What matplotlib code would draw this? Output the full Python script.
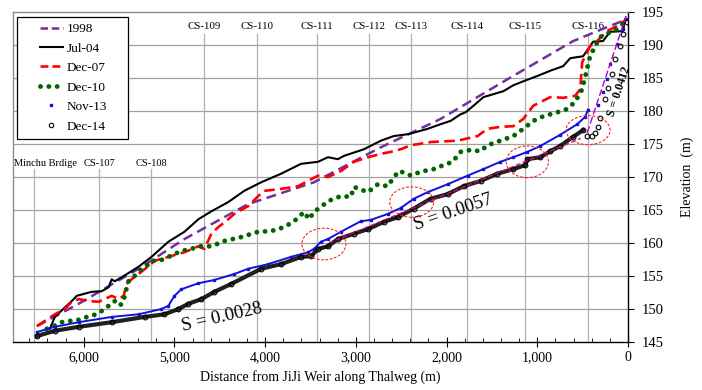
import matplotlib
matplotlib.use('Agg')
import matplotlib.pyplot as plt
from matplotlib.lines import Line2D
from matplotlib.patches import Ellipse
from matplotlib.legend_handler import HandlerLine2D
from matplotlib.ticker import FuncFormatter, MultipleLocator
import numpy as np

plt.rcParams['font.family'] = ['Liberation Serif', 'DejaVu Serif']

# ---------------- data ----------------
dist_1998 = [6517, 6055, 5396, 4890, 4187, 3462, 2725, 2066, 1330, 604, 198, 11]
elev_1998 = [147.4, 150.8, 156.1, 160.6, 165.9, 169.2, 174.5, 178.8, 184.8, 190.6, 192.9, 193.9]

dist_jul04 = [6374, 6319, 6110, 6077, 5912, 5802, 5726, 5692, 5659, 5583, 5396, 5253, 5066,
              4890, 4736, 4593, 4407, 4231, 4044, 3824, 3604, 3418, 3308, 3198, 3132, 2912,
              2725, 2583, 2418, 2209, 2066, 1956, 1846, 1791, 1703, 1594, 1374, 1264, 1154,
              1000, 857, 714, 637, 495, 385, 275, 198, 55, 33]
elev_jul04 = [147.0, 148.8, 151.5, 152.0, 152.6, 152.7, 153.3, 154.5, 154.2, 154.8, 156.4, 157.9, 160.2,
              161.7, 163.6, 164.8, 166.2, 167.9, 169.2, 170.5, 172.0, 172.3, 173.0, 172.7, 173.2, 174.2,
              175.5, 176.2, 176.5, 177.3, 178.0, 178.5, 179.5, 179.8, 180.8, 182.1, 183.0, 183.9, 184.5,
              185.3, 186.1, 186.8, 188.0, 188.3, 190.5, 190.6, 192.0, 192.1, 193.9]

dist_dec07 = [6517, 6429, 6319, 6209, 6132, 6055, 5945, 5835, 5770, 5692, 5615, 5560, 5527, 5473,
              5396, 5286, 5220, 5066, 4890, 4736, 4670, 4593, 4517, 4407, 4341, 4187, 4077, 4011,
              3824, 3638, 3528, 3418, 3308, 3165, 3022, 2868, 2725, 2616, 2506, 2396, 2176, 1879,
              1659, 1550, 1407, 1264, 1154, 1044, 857, 714, 582, 527, 505, 418, 341, 231, 121, 55, 11]
elev_dec07 = [147.4, 148.2, 149.2, 150.0, 151.1, 151.5, 151.2, 151.1, 151.5, 152.0, 151.5, 152.0, 153.8, 154.5,
              155.3, 156.5, 157.3, 157.9, 158.6, 159.5, 159.1, 161.4, 162.4, 163.6, 164.4, 165.6, 167.1, 167.9,
              168.2, 168.6, 169.4, 170.2, 170.0, 170.9, 172.3, 173.0, 173.5, 173.8, 174.2, 174.8, 175.3, 175.5,
              176.2, 177.3, 177.6, 177.7, 178.8, 180.8, 182.1, 182.0, 182.3, 183.3, 187.4, 189.8, 190.6, 192.1,
              192.9, 193.5, 193.9]

dist_dec10 = [6407, 6352, 6242, 6165, 6099, 6022, 5945, 5857, 5770, 5660, 5605, 5560, 5550, 5506,
              5440, 5385, 5308, 5253, 5165, 5066, 4923, 4813, 4736, 4593, 4451, 4264, 4077, 3934,
              3791, 3681, 3571, 3516, 3462, 3385, 3297, 3165, 3055, 3022, 2868, 2758, 2649, 2594,
              2528, 2429, 2396, 2286, 2143, 2033, 1934, 1846, 1736, 1626, 1550, 1407, 1264, 1154,
              1044, 934, 780, 670, 582, 505, 451, 418, 363, 308, 231, 121, 55]
elev_dec10 = [147.0, 147.3, 148.0, 148.2, 148.2, 148.5, 148.9, 149.2, 150.0, 151.2, 150.5, 151.1, 152.0, 154.2,
              155.0, 155.8, 156.5, 157.3, 157.3, 157.9, 158.8, 159.1, 159.5, 159.5, 160.3, 160.9, 161.7, 161.8,
              162.4, 163.3, 164.7, 163.6, 164.7, 165.5, 166.4, 167.1, 167.0, 168.5, 167.7, 168.9, 168.6, 169.7,
              170.9, 170.5, 170.2, 170.8, 171.2, 171.8, 172.3, 173.8, 174.1, 173.9, 174.8, 175.5, 176.2, 177.3,
              178.5, 179.2, 179.8, 180.3, 181.4, 183.3, 186.4, 188.3, 189.8, 191.2, 191.7, 192.4, 193.2]

dist_nov13 = [6517, 6319, 6055, 5692, 5396, 5143, 5066, 5000, 4923, 4736, 4560, 4341, 4187, 3967,
              3714, 3528, 3462, 3385, 3308, 3165, 2945, 2835, 2649, 2506, 2363, 2209, 1989, 1769,
              1594, 1407, 1264, 1110, 967, 747, 560, 473, 440, 330, 275, 231, 198, 121, 55, 11]
elev_nov13 = [146.5, 147.3, 148.0, 148.8, 149.2, 150.0, 150.5, 152.0, 153.0, 153.9, 154.4, 155.3, 156.1, 156.8,
              157.9, 158.6, 159.1, 160.2, 160.6, 161.7, 163.3, 163.5, 164.4, 165.3, 166.7, 167.7, 168.9, 170.2,
              171.2, 172.3, 173.0, 173.8, 174.7, 176.4, 178.0, 179.1, 180.2, 180.9, 182.9, 184.8, 187.1, 190.2,
              192.4, 193.9]

dist_dec14 = [6517, 6319, 6055, 5692, 5330, 5110, 4956, 4846, 4703, 4560, 4374, 4044, 3824, 3604,
              3495, 3418, 3308, 3198, 3022, 2868, 2692, 2539, 2363, 2176, 1989, 1813, 1626, 1440,
              1264, 1132, 1110, 967, 857, 747, 604, 495, 451, 396, 363, 330, 308, 253, 220, 176,
              143, 88, 55, 11]
elev_dec14 = [145.9, 146.7, 147.3, 148.0, 148.8, 149.2, 150.0, 150.8, 151.5, 152.6, 153.8, 156.1, 156.8, 157.9,
              158.0, 159.1, 159.5, 160.6, 161.4, 162.1, 163.2, 163.9, 165.2, 166.7, 167.4, 168.6, 169.4, 170.5,
              171.2, 171.8, 172.7, 173.0, 173.9, 174.7, 176.1, 177.1, 176.2, 176.2, 176.7, 177.6, 178.9, 181.8,
              183.5, 185.6, 187.9, 189.8, 191.7, 193.5]

cs_names = ['Minchu Brdige', 'CS-107', 'CS-108', 'CS-109', 'CS-110', 'CS-111', 'CS-112',
            'CS-113', 'CS-114', 'CS-115', 'CS-116']
cs_dist = [6545, 5830, 5258, 4675, 4092, 3432, 2860, 2387, 1771, 1133, 440]

slope_labels = ['S = 0.0028', 'S = 0.0057', 'S = 0.0412']
slope_values = [0.0028, 0.0057, 0.0412]

# ---------------- figure ----------------
fig = plt.figure(figsize=(7.02, 3.9), dpi=100)
ax = fig.add_axes([13/702, 1-342/390, (628-13)/702, (342-12)/390])
ax.set_xlim(6780, 0)
ax.set_ylim(145, 195)

# horizontal grid
ax.yaxis.set_major_locator(MultipleLocator(5))
for yv in np.arange(150, 195, 5):
    ax.axhline(yv, color='#a0a0a0', lw=0.9, zorder=0)

# cross-section lines and labels
for i, (nm, dx) in enumerate(zip(cs_names, cs_dist)):
    if i < 3:
        ax.plot([dx, dx], [145, 171.2], color='#b0b0b0', lw=0.9, zorder=0)
        lx = 6420 if i == 0 else dx
        ax.text(lx, 172.0, nm, ha='center', va='center', fontsize=7.5)
    else:
        ax.plot([dx, dx], [145, 191.7], color='#b0b0b0', lw=0.9, zorder=0)
        ax.text(dx, 192.8, nm, ha='center', va='center', fontsize=7.8)

# series
ax.plot(dist_1998, elev_1998, color='#7030A0', lw=1.8, ls=(0, (4, 2.2)), zorder=3)
ax.plot(dist_jul04, elev_jul04, color='black', lw=1.5, zorder=3)
ax.plot(dist_dec07, elev_dec07, color='#FF0000', lw=1.9, ls=(0, (4, 2)), zorder=4)
ax.plot(dist_dec10, elev_dec10, color='#006400', lw=3.5, ls=(0, (0.01, 1.7)),
        dash_capstyle='round', zorder=4)

d13 = np.array(dist_nov13); e13 = np.array(elev_nov13)
m13 = d13 >= 440
ax.plot(d13[m13], e13[m13], color='#1010E0', lw=1.4, zorder=5)
ax.plot(d13, e13, ls='none', marker='s', ms=1.8, color='#1010E0', zorder=5)

d14 = np.array(dist_dec14); e14 = np.array(elev_dec14)
m14 = d14 >= 495
ax.plot(d14[m14], e14[m14], color='#202020', lw=3.0, zorder=5)
ax.plot(d14, e14, ls='none', marker='o', ms=3.4, mfc='none', mec='black', mew=0.8, zorder=6)

# slope lines
d_a = np.array([3300, 520])
ax.plot(d_a, 160.0 + slope_values[1] * (3300 - d_a), color='#E0007F', lw=0.9,
        ls=(0, (4, 2)), zorder=6)
d_b = np.array([450, 20])
ax.plot(d_b, 176.7 + slope_values[2] * (450 - d_b), color='#C000C0', lw=1.0,
        ls=(0, (5, 2)), zorder=6)

# ellipses
for cx, cy, w, h in [(3352, 159.85, 485, 4.8), (2385, 166.2, 485, 4.6),
                     (1110, 172.3, 465, 4.8), (440, 177.1, 485, 4.4)]:
    ax.add_patch(Ellipse((cx, cy), w, h, fill=False, edgecolor='#FF2020', lw=0.8,
                         ls=(0, (2.5, 1.5)), zorder=7))

# slope texts
ax.text(4480, 148.8, slope_labels[0], fontsize=13.5, rotation=13, ha='center', va='center', zorder=8)
ax.text(1920, 164.6, slope_labels[1], fontsize=13.5, rotation=19, ha='center', va='center', zorder=8)
ax.text(99, 182.9, slope_labels[2], fontsize=8.5, rotation=72, ha='center', va='center',
        fontweight='bold', zorder=8)

# axes styling
ax.yaxis.tick_right()
ax.yaxis.set_label_position('right')
ax.tick_params(axis='y', which='both', right=True, left=False, direction='out', length=4,
               labelsize=10.5, pad=6)
ax.xaxis.set_major_locator(MultipleLocator(1000))
ax.xaxis.set_minor_locator(MultipleLocator(200))
ax.xaxis.set_major_formatter(FuncFormatter(lambda v, p: f'{v:,.0f}'))
ax.tick_params(axis='x', which='major', direction='inout', length=7, labelsize=10, pad=3)
ax.tick_params(axis='x', which='minor', direction='in', length=3)
ax.set_xlabel('Distance from JiJi Weir along Thalweg (m)', fontsize=10, labelpad=4)
ax.set_ylabel('Elevation  (m)', fontsize=10, labelpad=12)

ax.spines['top'].set_color('#8c8c8c')
ax.spines['left'].set_color('#8c8c8c')
ax.spines['bottom'].set_color('black')
ax.spines['right'].set_color('black')
for s in ax.spines.values():
    s.set_linewidth(1.0)


# legend: handles drawn in the right part of a wide handle box
class ShiftedHandler(HandlerLine2D):
    def create_artists(self, legend, orig_handle, xdescent, ydescent, width, height,
                       fontsize, trans):
        shift = width * 0.42
        return super().create_artists(legend, orig_handle, xdescent - shift, ydescent,
                                      width - shift, height, fontsize, trans)


handles = [
    Line2D([], [], color='#7030A0', lw=1.8, ls=(0, (3, 1.5))),
    Line2D([], [], color='black', lw=1.5),
    Line2D([], [], color='#FF0000', lw=1.9, ls=(0, (3, 1.5))),
    Line2D([], [], color='#006400', lw=3.5, ls=(0, (0.01, 1.7)), dash_capstyle='round'),
    Line2D([], [], ls='none', marker='s', ms=1.8, color='#1010E0'),
    Line2D([], [], ls='none', marker='o', ms=3.2, mfc='none', mec='black', mew=0.8),
]
labels = ['1998', 'Jul-04', 'Dec-07', 'Dec-10', 'Nov-13', 'Dec-14']
hm = {h: ShiftedHandler() for h in handles}
leg = ax.legend(handles, labels, loc='upper left', bbox_to_anchor=(0.0065, 0.612, 0.180, 0.373),
                mode='expand', handler_map=hm,
                frameon=True, fancybox=False, edgecolor='black', framealpha=1,
                fontsize=9.5, handlelength=3.0, labelspacing=0.55, borderpad=0.45,
                handletextpad=0.3, borderaxespad=0)
leg.get_frame().set_linewidth(0.9)
leg.set_zorder(10)

fig.savefig('out.png', dpi=100)
